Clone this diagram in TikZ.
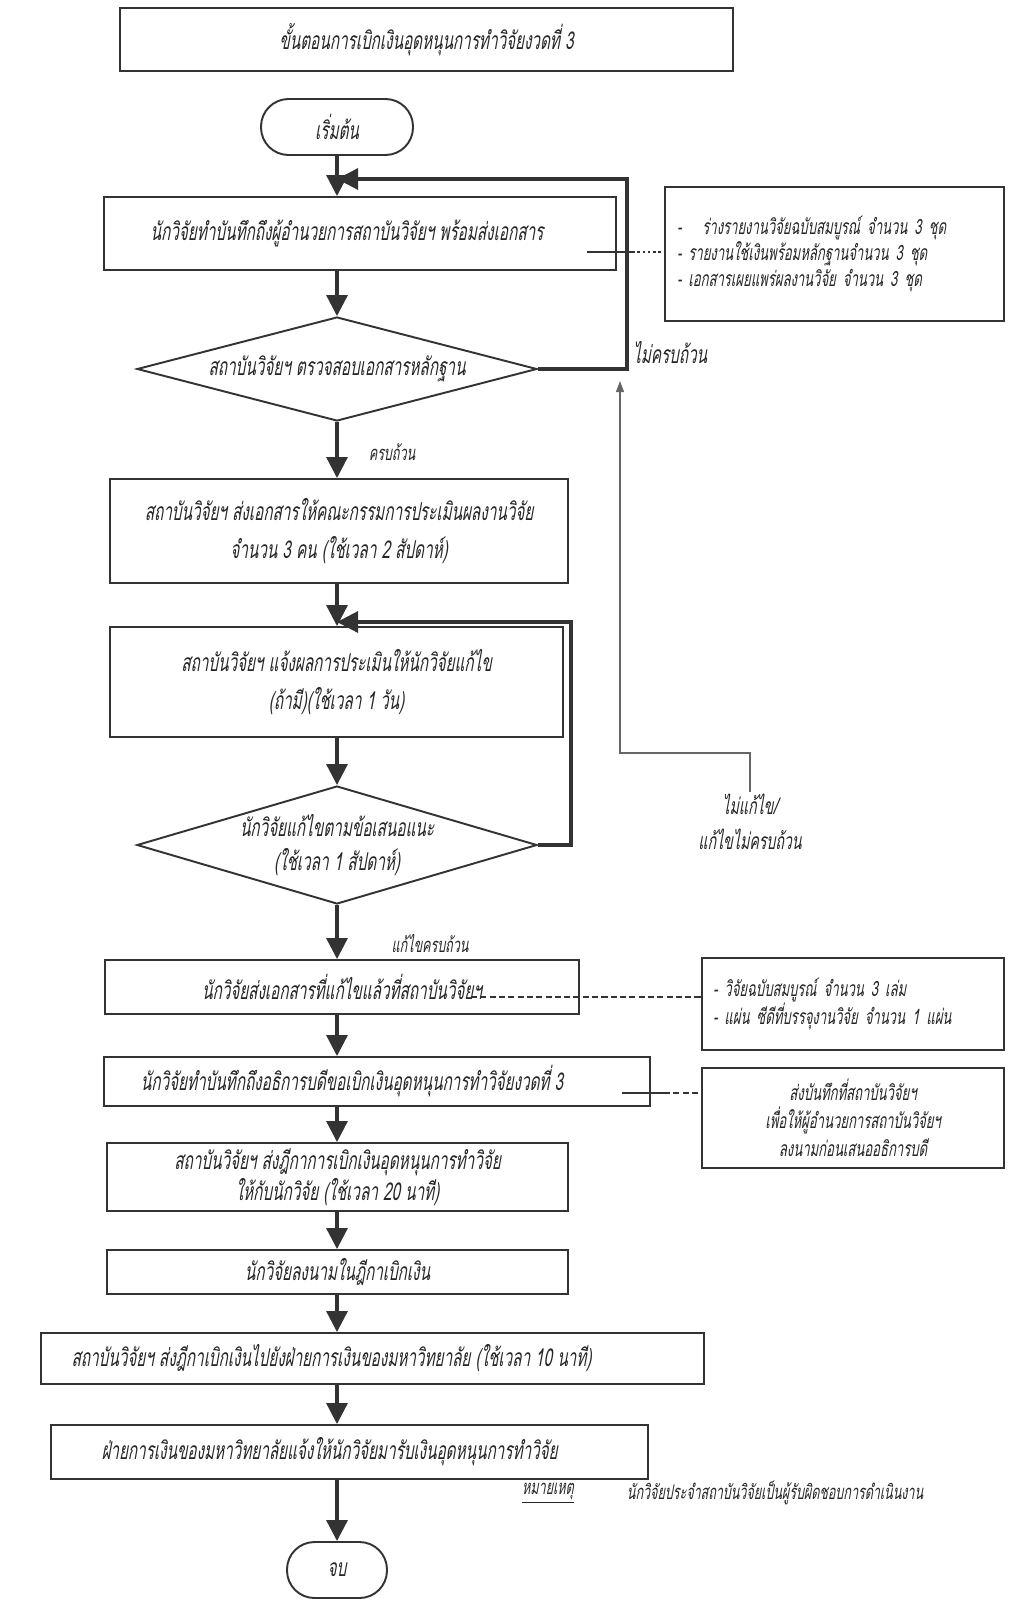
\documentclass[tikz,border=0pt]{standalone}
\usepackage{fontspec}
\newfontfamily\thaifont[Script=Thai,FakeSlant=0.18,FakeStretch=0.62]{Loma}
\usetikzlibrary{shapes.geometric,arrows.meta}
\begin{document}
\begin{tikzpicture}[x=0.02cm, y=-0.02cm,
  every node/.style={font=\thaifont\fontsize{14}{22}\selectfont, text=black!85},
  stepbox/.style={draw=black!80, line width=1.1pt, fill=white, align=center, inner sep=0pt},
  notebox/.style={draw=black!80, line width=1pt, fill=white, inner sep=5pt, font=\thaifont\fontsize{12}{15}\selectfont},
  decide/.style={diamond, draw=black!80, line width=1.1pt, fill=white, align=center, inner sep=0pt},
  term/.style={draw=black!80, line width=1.1pt, fill=white, rounded corners=0.55cm, inner sep=0pt},
  flow/.style={draw=black!80, line width=1.8pt, -{Triangle[length=0.42cm, width=0.42cm]}},
  link/.style={draw=black!80, line width=0.9pt, dash pattern=on 1.5pt off 1.5pt},
  dlink/.style={draw=black!80, line width=0.9pt, dash pattern=on 3.5pt off 1.8pt},
  small/.style={font=\thaifont\fontsize{11.5}{14}\selectfont}]
  \useasboundingbox (0, 0) rectangle (1008, 1599);
  \coordinate (spine) at (337, 0);

  \node[stepbox, line width=1.4pt, minimum width=12.26cm, minimum height=1.26cm] (title) at (426.5, 39.5) {ขั้นตอนการเบิกเงินอุดหนุนการทำวิจัยงวดที่ 3};
  \node[term, minimum width=3.04cm, minimum height=1.12cm] (start) at (337, 127) {เริ่มต้น};

  \node[stepbox, minimum width=10.24cm, minimum height=1.46cm] (b1) at (360, 233.5) {นักวิจัยทำบันทึกถึงผู้อำนวยการสถาบันวิจัยฯ พร้อมส่งเอกสาร\hspace*{0.52cm}};
  \node[notebox, minimum width=6.78cm, minimum height=2.68cm, text width=6.3cm, align=left] (n1) at (834.5, 254) {-\quad ร่างรายงานวิจัยฉบับสมบูรณ์ จำนวน 3 ชุด\\- รายงานใช้เงินพร้อมหลักฐานจำนวน 3 ชุด\\- เอกสารเผยแพร่ผลงานวิจัย จำนวน 3 ชุด};
  \node[decide, aspect=3.9, minimum width=8.0cm, minimum height=2.08cm] (d1) at (337, 369) {สถาบันวิจัยฯ ตรวจสอบเอกสารหลักฐาน};
  \node[stepbox, minimum width=9.16cm, minimum height=2.08cm] (b2) at (339, 531) {สถาบันวิจัยฯ ส่งเอกสารให้คณะกรรมการประเมินผลงานวิจัย\\จำนวน 3 คน (ใช้เวลา 2 สัปดาห์)};
  \node[stepbox, minimum width=9.06cm, minimum height=2.2cm] (b3) at (336.5, 682) {สถาบันวิจัยฯ แจ้งผลการประเมินให้นักวิจัยแก้ไข\\(ถ้ามี)(ใช้เวลา 1 วัน)};
  \node[decide, aspect=3.4, minimum width=8.0cm, minimum height=2.36cm, font=\thaifont\fontsize{14}{19}\selectfont] (d2) at (337, 845) {นักวิจัยแก้ไขตามข้อเสนอแนะ\\(ใช้เวลา 1 สัปดาห์)};
  \node[stepbox, minimum width=9.5cm, minimum height=1.08cm] (b4) at (342, 987) {นักวิจัยส่งเอกสารที่แก้ไขแล้วที่สถาบันวิจัยฯ};
  \node[notebox, minimum width=6.04cm, minimum height=1.84cm, text width=5.6cm, align=left] (n2) at (853, 1004) {- วิจัยฉบับสมบูรณ์ จำนวน 3 เล่ม\\- แผ่น ซีดีที่บรรจุงานวิจัย จำนวน 1 แผ่น};
  \node[stepbox, minimum width=10.92cm, minimum height=0.98cm] (b5) at (377, 1081.5) {นักวิจัยทำบันทึกถึงอธิการบดีขอเบิกเงินอุดหนุนการทำวิจัยงวดที่ 3\hspace*{1.0cm}};
  \node[notebox, minimum width=6.04cm, minimum height=2.0cm, align=center, font=\thaifont\fontsize{12}{16}\selectfont] (n3) at (853, 1118) {ส่งบันทึกที่สถาบันวิจัยฯ\\เพื่อให้ผู้อำนวยการสถาบันวิจัยฯ\\ลงนามก่อนเสนออธิการบดี};
  \node[stepbox, minimum width=9.22cm, minimum height=1.36cm, font=\thaifont\fontsize{14}{17.6}\selectfont] (b6) at (337.5, 1177) {สถาบันวิจัยฯ ส่งฎีกาการเบิกเงินอุดหนุนการทำวิจัย\\ให้กับนักวิจัย (ใช้เวลา 20 นาที)};
  \node[stepbox, minimum width=9.22cm, minimum height=0.88cm] (b7) at (337.5, 1272) {นักวิจัยลงนามในฎีกาเบิกเงิน};
  \node[stepbox, minimum width=13.26cm, minimum height=1.02cm] (b8) at (372.5, 1358.5) {สถาบันวิจัยฯ ส่งฎีกาเบิกเงินไปยังฝ่ายการเงินของมหาวิทยาลัย (ใช้เวลา 10 นาที)\hspace*{1.64cm}};
  \node[stepbox, minimum width=11.94cm, minimum height=1.08cm] (b9) at (349.5, 1452) {ฝ่ายการเงินของมหาวิทยาลัยแจ้งให้นักวิจัยมารับเงินอุดหนุนการทำวิจัย\hspace*{0.8cm}};
  \node[term, minimum width=2.0cm, minimum height=1.12cm] (stop) at (337, 1570) {จบ};

  % labels
  \node[inner sep=1pt, anchor=south west] (no1) at (631, 366) {ไม่ครบถ้วน};
  \node[small] (yes1) at (392, 452) {ครบถ้วน};
  \node[small] (yes2) at (430, 943) {แก้ไขครบถ้วน};
  \node[align=center, inner sep=1pt, font=\thaifont\fontsize{13}{20}\selectfont] (no2) at (750, 822) {ไม่แก้ไข/\\แก้ไขไม่ครบถ้วน};
  \node[small] (mark) at (548, 1493) {\underline{หมายเหตุ}};
  \node[small] (marktxt) at (775, 1493) {นักวิจัยประจำสถาบันวิจัยเป็นผู้รับผิดชอบการดำเนินงาน};

  % main flow
  \draw[flow] (start.south) -- (b1.north -| spine);
  \draw[flow] (b1.south -| spine) -- (d1.north);
  \draw[flow] (d1.south) -- (b2.north -| spine);
  \draw[flow] (b2.south -| spine) -- (b3.north -| spine);
  \draw[flow] (b3.south -| spine) -- (d2.north);
  \draw[flow] (d2.south) -- (b4.north -| spine);
  \draw[flow] (b4.south -| spine) -- (b5.north -| spine);
  \draw[flow] (b5.south -| spine) -- (b6.north -| spine);
  \draw[flow] (b6.south -| spine) -- (b7.north -| spine);
  \draw[flow] (b7.south -| spine) -- (b8.north -| spine);
  \draw[flow] (b8.south -| spine) -- (b9.north -| spine);
  \draw[flow] (b9.south -| spine) -- (stop.north);

  % loops back
  \coordinate (loop1) at (627, 179);
  \coordinate (loop2) at (571, 622);
  \draw[flow] (d1.east) -| (loop1) -- (loop1 -| spine);
  \draw[flow] (d2.east) -| (loop2) -- (loop2 -| spine);
  \coordinate (bend) at (620, 753);
  \draw[black!60, line width=0.6pt, -{Triangle[length=0.22cm, width=0.16cm]}] (no2.north) |- (bend) -- ++(0, -372);

  % notes
  \coordinate (c1) at (587, 252);
  \coordinate (c3) at (622, 1093);
  \draw[line width=0.9pt, black!80] (c1) -- ++(45, 0) coordinate (c1out);
  \draw[link] (c1out) -- (c1out -| n1.west);
  \draw[dlink] (471, 997) coordinate (c2) -- (c2 -| n2.west);
  \draw[line width=0.9pt, black!80] (c3) -- ++(42, 0) coordinate (c3out);
  \draw[dlink] (c3out) -- (c3out -| n3.west);
\end{tikzpicture}
\end{document}
